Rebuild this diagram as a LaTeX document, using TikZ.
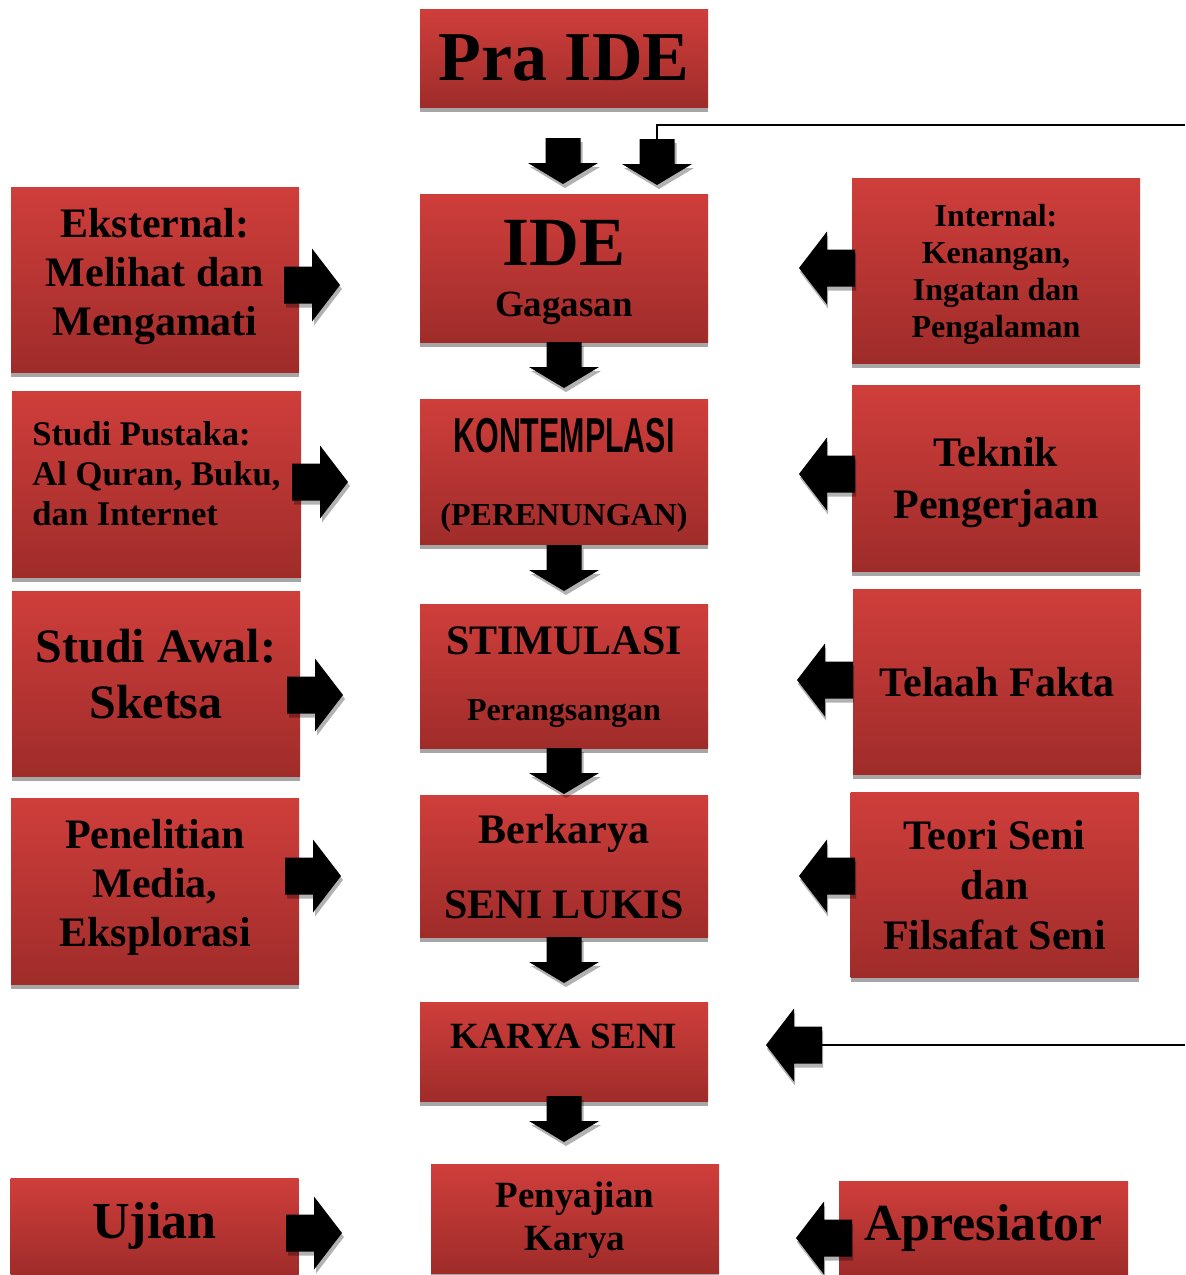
\documentclass[tikz,border=0pt]{standalone}
\usepackage{fontspec}
\usepackage{graphicx}
\setmainfont{Liberation Serif}
\newfontfamily\condfont{Liberation Sans}
\usetikzlibrary{shadows}

\definecolor{boxtop}{HTML}{CF3E3B}
\definecolor{boxbot}{HTML}{9F2C2A}
\definecolor{boxshade}{HTML}{A6A6A6}

\tikzset{
  box/.style={rectangle, inner sep=0pt, minimum width=144pt, top color=boxtop, bottom color=boxbot,
    align=center, text=black, general shadow={fill=boxshade, shadow yshift=-2.5pt}},
  % block arrows, origin at the tail
  darr/.pic={
    \fill[black, opacity=.3, shift={(2,4)}] (-17.5,0) -- (17.5,0) -- (17.5,25) -- (35,25) -- (0,46) -- (-35,25) -- (-17.5,25) -- cycle;
    \fill (-17.5,0) -- (17.5,0) -- (17.5,25) -- (35,25) -- (0,46) -- (-35,25) -- (-17.5,25) -- cycle;
    \coordinate (-tail) at (0,0);
  },
  rarr/.pic={
    \fill[black, opacity=.3, shift={(2,4)}] (0,-18.5) -- (28,-18.5) -- (28,-36.5) -- (56,0) -- (28,36.5) -- (28,18.5) -- (0,18.5) -- cycle;
    \fill (0,-18.5) -- (28,-18.5) -- (28,-36.5) -- (56,0) -- (28,36.5) -- (28,18.5) -- (0,18.5) -- cycle;
    \coordinate (-tail) at (0,0);
  },
  larr/.pic={
    \fill[black, opacity=.3, shift={(1,4)}] (0,-18.5) -- (-28,-18.5) -- (-28,-36.5) -- (-56,0) -- (-28,36.5) -- (-28,18.5) -- (0,18.5) -- cycle;
    \fill (0,-18.5) -- (-28,-18.5) -- (-28,-36.5) -- (-56,0) -- (-28,36.5) -- (-28,18.5) -- (0,18.5) -- cycle;
    \coordinate (-tail) at (0,0);
  }
}

\begin{document}
\begin{tikzpicture}[x=0.5pt, y=-0.5pt]
\useasboundingbox (0,0) rectangle (1185,1275);

% middle column
\node[box, minimum height=49pt, font=\bfseries\fontsize{35}{40}\selectfont] (pra) at (564,58) {Pra IDE};
\node[box, minimum height=74pt, text depth=0pt, font=\bfseries\fontsize{18.5}{25.5}\selectfont] (ide) at (564,268) {{\fontsize{34.5}{36}\selectfont IDE}\\Gagasan};
\node[box, minimum height=72.5pt, text depth=-3.5pt, font=\bfseries\fontsize{16}{36.5}\selectfont] (kon) at (564,471.5) {{\condfont\fontsize{24.5}{26}\selectfont\scalebox{0.62}[1]{KONTEMPLASI}}\\(PERENUNGAN)};
\node[box, minimum height=72pt, text depth=2.5pt, font=\bfseries\fontsize{16}{33}\selectfont] (sti) at (564,676) {{\fontsize{21}{24}\selectfont STIMULASI}\\Perangsangan};
\node[box, minimum height=71pt, text depth=-3.5pt, font=\bfseries\fontsize{21}{37.5}\selectfont] (ber) at (564,866) {Berkarya\\SENI LUKIS};
\node[box, minimum height=49.5pt, text depth=15pt, font=\bfseries\fontsize{18.5}{22}\selectfont] (kar) at (564,1051.5) {KARYA SENI};
\node[box, minimum height=54.5pt, text depth=2pt, font=\bfseries\fontsize{18.5}{21.5}\selectfont] (saji) at (575,1218.5) {Penyajian\\Karya};

% left column
\node[box, minimum height=92.5pt, text depth=8pt, font=\bfseries\fontsize{21}{24.5}\selectfont] (eks) at (155,279.5) {Eksternal:\\Melihat dan\\Mengamati};
\node[box, minimum height=93pt, minimum width=144.5pt, align=left, text depth=11pt, font=\bfseries\fontsize{17.3}{20}\selectfont] (pus) at (156.5,484) {Studi Pustaka:\\Al Quran, Buku,\\dan Internet};
\node[box, minimum height=92.5pt, text depth=10pt, font=\bfseries\fontsize{24}{28}\selectfont] (awal) at (156,683.5) {Studi Awal:\\Sketsa};
\node[box, minimum height=93pt, text depth=8.5pt, font=\bfseries\fontsize{21}{24.5}\selectfont] (teliti) at (155,891) {Penelitian\\Media,\\Eksplorasi};
\node[box, minimum height=48pt, font=\bfseries\fontsize{26}{30}\selectfont] (uji) at (154.5,1226) {Ujian};

% right column
\node[box, minimum height=92.5pt, text depth=-1pt, font=\bfseries\fontsize{16}{18.5}\selectfont] (intr) at (996,270.5) {Internal:\\Kenangan,\\Ingatan dan\\Pengalaman};
\node[box, minimum height=93pt, text depth=-0.5pt, font=\bfseries\fontsize{21}{26}\selectfont] (tek) at (996,478) {Teknik\\Pengerjaan};
\node[box, minimum height=92.5pt, text depth=-3pt, font=\bfseries\fontsize{21}{25}\selectfont] (tel) at (997,681.5) {Telaah Fakta};
\node[box, minimum height=92.5pt, text depth=-2.5pt, font=\bfseries\fontsize{21}{25}\selectfont] (teo) at (994.5,884.5) {Teori Seni\\dan\\Filsafat Seni};
\node[box, minimum height=46.5pt, minimum width=144.5pt, font=\bfseries\fontsize{26}{30}\selectfont] (apr) at (983.5,1227.5) {Apresiator};

% arrows down
\pic (dpra1) at (563,138) {darr};
\pic (dpra2) at (657,139) {darr};
\pic (dide) at (564,342) {darr};
\pic (dkon) at (564,545) {darr};
\pic (dsti) at (564,748) {darr};
\pic (dber) at (564,937) {darr};
\pic (dkar) at (564,1096) {darr};

% arrows from the left
\pic (reks) at (284,285) {rarr};
\pic (rpus) at (292,482) {rarr};
\pic (rawal) at (287,695) {rarr};
\pic (rteliti) at (285,876) {rarr};
\pic (ruji) at (286,1233) {rarr};

% arrows from the right
\pic (lintr) at (855,268) {larr};
\pic (ltek) at (855,474) {larr};
\pic (ltel) at (853,680) {larr};
\pic (lteo) at (855,876) {larr};
\pic (lkar) at (822,1045) {larr};
\pic (lapr) at (852,1238) {larr};

% lines running off to the right
\coordinate (topR) at (1185,125);
\coordinate (botR) at (1185,1045);
\draw[line width=1pt] (dpra2-tail) |- (topR);
\draw[line width=1pt] (lkar-tail) -- (botR);
\end{tikzpicture}
\end{document}
